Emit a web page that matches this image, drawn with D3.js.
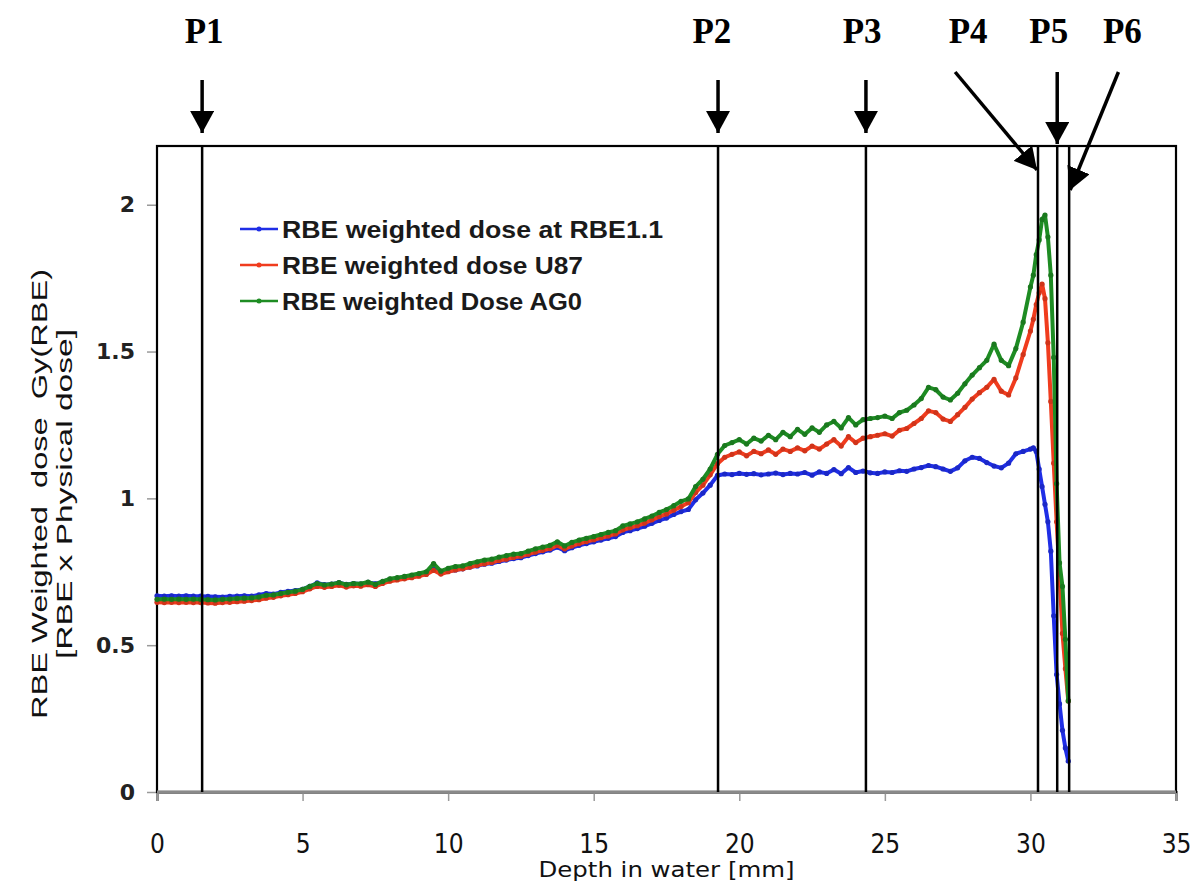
<!DOCTYPE html>
<html>
<head>
<meta charset="utf-8">
<script src="https://cdn.jsdelivr.net/npm/d3@7"></script>
<style>
  body { margin: 0; background: #fff; }
  svg { display: block; }
</style>
</head>
<body>
<div id="chart"></div>
<script>
// depth in water [mm]
const depth = [
  0,0.25,0.5,0.75,1,1.25,1.5,1.75,
  2,2.25,2.5,2.75,3,3.25,3.5,3.75,
  4,4.25,4.5,4.75,5,5.25,5.5,5.75,
  6,6.25,6.5,6.75,7,7.25,7.5,7.75,
  8,8.25,8.5,8.75,9,9.25,9.5,9.75,
  10,10.25,10.5,10.75,11,11.25,11.5,11.75,
  12,12.25,12.5,12.75,13,13.25,13.5,13.75,
  14,14.25,14.5,14.75,15,15.25,15.5,15.75,
  16,16.25,16.5,16.75,17,17.25,17.5,17.75,
  18,18.25,18.5,18.75,19,19.25,19.5,19.75,
  20,20.25,20.5,20.75,21,21.25,21.5,21.75,
  22,22.25,22.5,22.75,23,23.25,23.5,23.75,
  24,24.25,24.5,24.75,25,25.25,25.5,25.75,
  26,26.25,26.5,26.75,27,27.25,27.5,27.75,
  28,28.25,28.5,28.75,29,29.25,29.5,29.75,
  30,
  30.1,30.2,30.3,30.4,30.5,30.6,30.7,30.8,30.9,31,31.1,31.2,31.3
];

const doseRBE11 = [
  0.668,0.667,0.668,0.667,0.668,0.667,0.667,0.666,
  0.665,0.664,0.666,0.667,0.668,0.667,0.671,0.676,
  0.674,0.680,0.683,0.686,0.690,0.700,0.712,0.706,
  0.708,0.713,0.707,0.710,0.708,0.714,0.709,0.716,
  0.724,0.728,0.731,0.735,0.739,0.744,0.762,0.745,
  0.752,0.756,0.760,0.766,0.770,0.776,0.779,0.785,
  0.790,0.795,0.798,0.805,0.812,0.818,0.824,0.834,
  0.822,0.832,0.840,0.846,0.852,0.858,0.864,0.870,
  0.884,0.890,0.897,0.905,0.915,0.925,0.933,0.945,
  0.955,0.962,0.995,1.018,1.045,1.078,1.083,1.081,
  1.085,1.082,1.084,1.080,1.083,1.086,1.081,1.085,
  1.083,1.088,1.079,1.090,1.085,1.098,1.084,1.105,
  1.088,1.093,1.087,1.085,1.090,1.088,1.094,1.092,
  1.100,1.105,1.112,1.108,1.100,1.092,1.104,1.128,
  1.140,1.136,1.122,1.110,1.104,1.120,1.152,1.160,
  1.168,
  1.172,1.160,1.100,1.040,0.980,0.920,0.820,0.600,0.400,0.300,0.210,0.150,0.105
];

const doseU87 = [
  0.646,0.645,0.646,0.645,0.646,0.645,0.645,0.644,
  0.643,0.645,0.646,0.648,0.650,0.652,0.655,0.660,
  0.663,0.668,0.672,0.676,0.682,0.692,0.700,0.697,
  0.700,0.704,0.698,0.702,0.701,0.706,0.700,0.710,
  0.718,0.722,0.726,0.730,0.735,0.741,0.755,0.742,
  0.750,0.756,0.760,0.766,0.772,0.777,0.782,0.788,
  0.793,0.799,0.803,0.810,0.817,0.823,0.829,0.840,
  0.828,0.838,0.846,0.853,0.859,0.866,0.872,0.879,
  0.893,0.900,0.907,0.916,0.927,0.938,0.947,0.960,
  0.972,0.985,1.020,1.045,1.080,1.118,1.140,1.150,
  1.158,1.145,1.160,1.152,1.165,1.150,1.168,1.160,
  1.172,1.162,1.178,1.168,1.185,1.200,1.178,1.210,
  1.190,1.205,1.210,1.215,1.220,1.212,1.232,1.238,
  1.255,1.272,1.298,1.292,1.270,1.262,1.285,1.310,
  1.338,1.360,1.378,1.405,1.365,1.352,1.410,1.490,
  1.570,
  1.610,1.660,1.700,1.730,1.680,1.530,1.330,1.120,0.920,0.740,0.540,0.420,0.310
];

const doseAG0 = [
  0.656,0.657,0.656,0.657,0.656,0.657,0.656,0.655,
  0.654,0.656,0.657,0.659,0.660,0.661,0.664,0.670,
  0.671,0.676,0.680,0.684,0.690,0.700,0.710,0.705,
  0.708,0.713,0.706,0.710,0.709,0.715,0.707,0.717,
  0.726,0.730,0.734,0.739,0.744,0.750,0.778,0.752,
  0.762,0.768,0.770,0.778,0.784,0.790,0.793,0.800,
  0.805,0.810,0.812,0.820,0.828,0.834,0.840,0.852,
  0.838,0.850,0.858,0.864,0.870,0.877,0.884,0.890,
  0.906,0.913,0.920,0.930,0.940,0.952,0.962,0.975,
  0.990,0.998,1.040,1.065,1.100,1.150,1.180,1.190,
  1.200,1.185,1.205,1.195,1.215,1.200,1.225,1.210,
  1.235,1.218,1.240,1.225,1.250,1.262,1.240,1.275,
  1.250,1.268,1.272,1.275,1.280,1.272,1.292,1.300,
  1.318,1.340,1.378,1.370,1.345,1.335,1.358,1.390,
  1.420,1.445,1.470,1.525,1.470,1.452,1.510,1.600,
  1.720,
  1.760,1.830,1.880,1.950,1.965,1.890,1.760,1.480,1.050,0.780,0.700,0.520,0.310
];

const seriesNames = ["RBE weighted dose at RBE1.1", "RBE weighted dose U87", "RBE weighted Dose AG0"];
const seriesColors = ["#1f2ee6", "#f03c1e", "#1e8c23"];

const xTicks = [0, 5, 10, 15, 20, 25, 30, 35];
const yTicks = [0, 0.5, 1, 1.5, 2];
const yTickLabels = ["0", "0.5", "1", "1.5", "2"];

// measurement planes
const pNames = ["P1", "P2", "P3", "P4", "P5", "P6"];
const pDepths = [1.55, 19.27, 24.35, 30.26, 30.92, 31.33];
const pLabelDepths = [1.62, 19.06, 24.22, 27.86, 30.63, 33.16];

const W = 1196, H = 885;
const margin = {top: 146, right: 20, bottom: 93, left: 157};
const width = W - margin.left - margin.right,
  height = H - margin.top - margin.bottom;

const svg = d3.select("#chart").append("svg")
  .attr("width", W).attr("height", H)
  .style("background", "#fff");

const defs = svg.append("defs");
defs.append("marker")
  .attr("id", "head")
  .attr("markerUnits", "userSpaceOnUse")
  .attr("viewBox", "0 0 22 24")
  .attr("refX", 22).attr("refY", 12)
  .attr("markerWidth", 22).attr("markerHeight", 24)
  .attr("orient", "auto")
  .append("path").attr("d", "M0,0 L22,12 L0,24 Z").attr("fill", "#000");

const g = svg.append("g").attr("transform", `translate(${margin.left},${margin.top})`);

const x = d3.scaleLinear().domain([0, 35]).range([0, width]);
const y = d3.scaleLinear().domain([0, 2.2]).range([height, 0]);

// bottom axis (grey)
const xAxis = g.append("g")
  .attr("transform", `translate(0,${height})`)
  .call(d3.axisBottom(x).tickValues(xTicks).tickSize(9).tickPadding(40).tickFormat(d3.format("d")));
xAxis.select(".domain").attr("stroke", "#8a8a8a").attr("stroke-width", 3);
xAxis.selectAll(".tick line").attr("stroke", "#9a9a9a").attr("stroke-width", 1.5);
xAxis.selectAll(".tick text")
  .attr("font-family", "'DejaVu Sans Condensed', 'DejaVu Sans', sans-serif")
  .attr("font-size", 26).attr("fill", "#111")
  .attr("dy", "0.45em");

// left axis
const yAxis = g.append("g")
  .call(d3.axisLeft(y).tickValues(yTicks).tickSize(10).tickPadding(12)
    .tickFormat((d, i) => yTickLabels[i]));
yAxis.select(".domain").remove();
yAxis.selectAll(".tick line").attr("stroke", "#9a9a9a").attr("stroke-width", 1.5);
yAxis.selectAll(".tick text")
  .attr("font-family", "'DejaVu Sans', sans-serif").attr("font-weight", "bold")
  .attr("font-size", 22).attr("fill", "#222");

// frame
g.append("rect")
  .attr("x", 0).attr("y", 0).attr("width", width).attr("height", height)
  .attr("fill", "none").attr("stroke", "#000").attr("stroke-width", 2.2);
g.append("line").attr("x1", 0).attr("x2", width).attr("y1", height).attr("y2", height)
  .attr("stroke", "#8a8a8a").attr("stroke-width", 3);

// curves
const allSeries = [doseRBE11, doseU87, doseAG0];
const line = d3.line().x(d => x(d[0])).y(d => y(d[1]));
allSeries.forEach((vals, si) => {
  const pts = depth.map((dp, i) => [dp, vals[i]]);
  g.append("path").datum(pts)
    .attr("fill", "none").attr("stroke", seriesColors[si])
    .attr("stroke-width", 4).attr("stroke-linejoin", "round")
    .attr("d", line);
  g.append("g").selectAll("circle").data(pts).join("circle")
    .attr("cx", d => x(d[0])).attr("cy", d => y(d[1])).attr("r", 2.6)
    .attr("fill", d3.color(seriesColors[si]).darker(0.4));
});

// vertical plane lines
g.selectAll(".pline").data(pDepths).join("line")
  .attr("class", "pline")
  .attr("x1", d => x(d)).attr("x2", d => x(d))
  .attr("y1", 0).attr("y2", height)
  .attr("stroke", "#000").attr("stroke-width", 2.5);

// labels above
svg.selectAll(".plabel").data(pNames).join("text")
  .attr("class", "plabel")
  .attr("x", (d, i) => margin.left + x(pLabelDepths[i]))
  .attr("y", 43)
  .attr("text-anchor", "middle")
  .attr("font-family", "'Liberation Serif', 'Times New Roman', serif")
  .attr("font-weight", "bold").attr("font-size", 35)
  .text(d => d);

// arrows: vertical ones for P1,P2,P3,P5; diagonal for P4 and P6
const arrows = pNames.map((n, i) => {
  const px = margin.left + x(pDepths[i]);
  if (n === "P4") return {x1: margin.left + x(pLabelDepths[i]) - 13, y1: 72, x2: px - 1, y2: 170};
  if (n === "P6") return {x1: margin.left + x(pLabelDepths[i]) - 4, y1: 72, x2: px + 1, y2: 190};
  if (n === "P5") return {x1: px, y1: 72, x2: px, y2: 144};
  return {x1: px, y1: 80, x2: px, y2: 133};
});
svg.selectAll(".arrow").data(arrows).join("line")
  .attr("class", "arrow")
  .attr("x1", d => d.x1).attr("y1", d => d.y1)
  .attr("x2", d => d.x2).attr("y2", d => d.y2)
  .attr("stroke", "#000").attr("stroke-width", 3.5)
  .attr("marker-end", "url(#head)");

// legend
const legendWidths = [381, 301, 300];
const legend = g.append("g").attr("transform", "translate(83,83)");
seriesNames.forEach((name, i) => {
  const row = legend.append("g").attr("transform", `translate(0,${i * 36})`);
  row.append("line").attr("x1", 0).attr("x2", 38).attr("y1", 0).attr("y2", 0)
    .attr("stroke", seriesColors[i]).attr("stroke-width", 2.5);
  row.append("circle").attr("cx", 19).attr("cy", 0).attr("r", 2.5).attr("fill", seriesColors[i]);
  row.append("text").attr("x", 42).attr("y", 0).attr("dy", "0.36em")
    .attr("font-family", "'Liberation Sans', Arial, sans-serif")
    .attr("font-weight", "bold").attr("font-size", 24).attr("fill", "#1a1a1a")
    .attr("textLength", legendWidths[i]).attr("lengthAdjust", "spacingAndGlyphs")
    .text(name);
});

// axis titles
svg.append("text")
  .attr("x", margin.left + width / 2).attr("y", 877)
  .attr("text-anchor", "middle")
  .attr("font-family", "'DejaVu Sans Condensed', 'DejaVu Sans', sans-serif")
  .attr("font-size", 21).attr("fill", "#111")
  .attr("textLength", 256).attr("lengthAdjust", "spacingAndGlyphs")
  .text("Depth in water [mm]");

const yTitle = svg.append("g")
  .attr("transform", `translate(0,${margin.top + height / 2 + 25}) rotate(-90)`)
  .attr("font-family", "'Liberation Sans', Arial, sans-serif")
  .attr("font-size", 22).attr("fill", "#111").attr("text-anchor", "middle");
yTitle.append("text").attr("x", 0).attr("y", 47)
  .attr("xml:space", "preserve")
  .attr("textLength", 450).attr("lengthAdjust", "spacingAndGlyphs")
  .text("RBE Weighted  dose  Gy(RBE)");
yTitle.append("text").attr("x", 0).attr("y", 72)
  .attr("textLength", 330).attr("lengthAdjust", "spacingAndGlyphs")
  .text("[RBE x Physical dose]");
</script>
</body>
</html>
